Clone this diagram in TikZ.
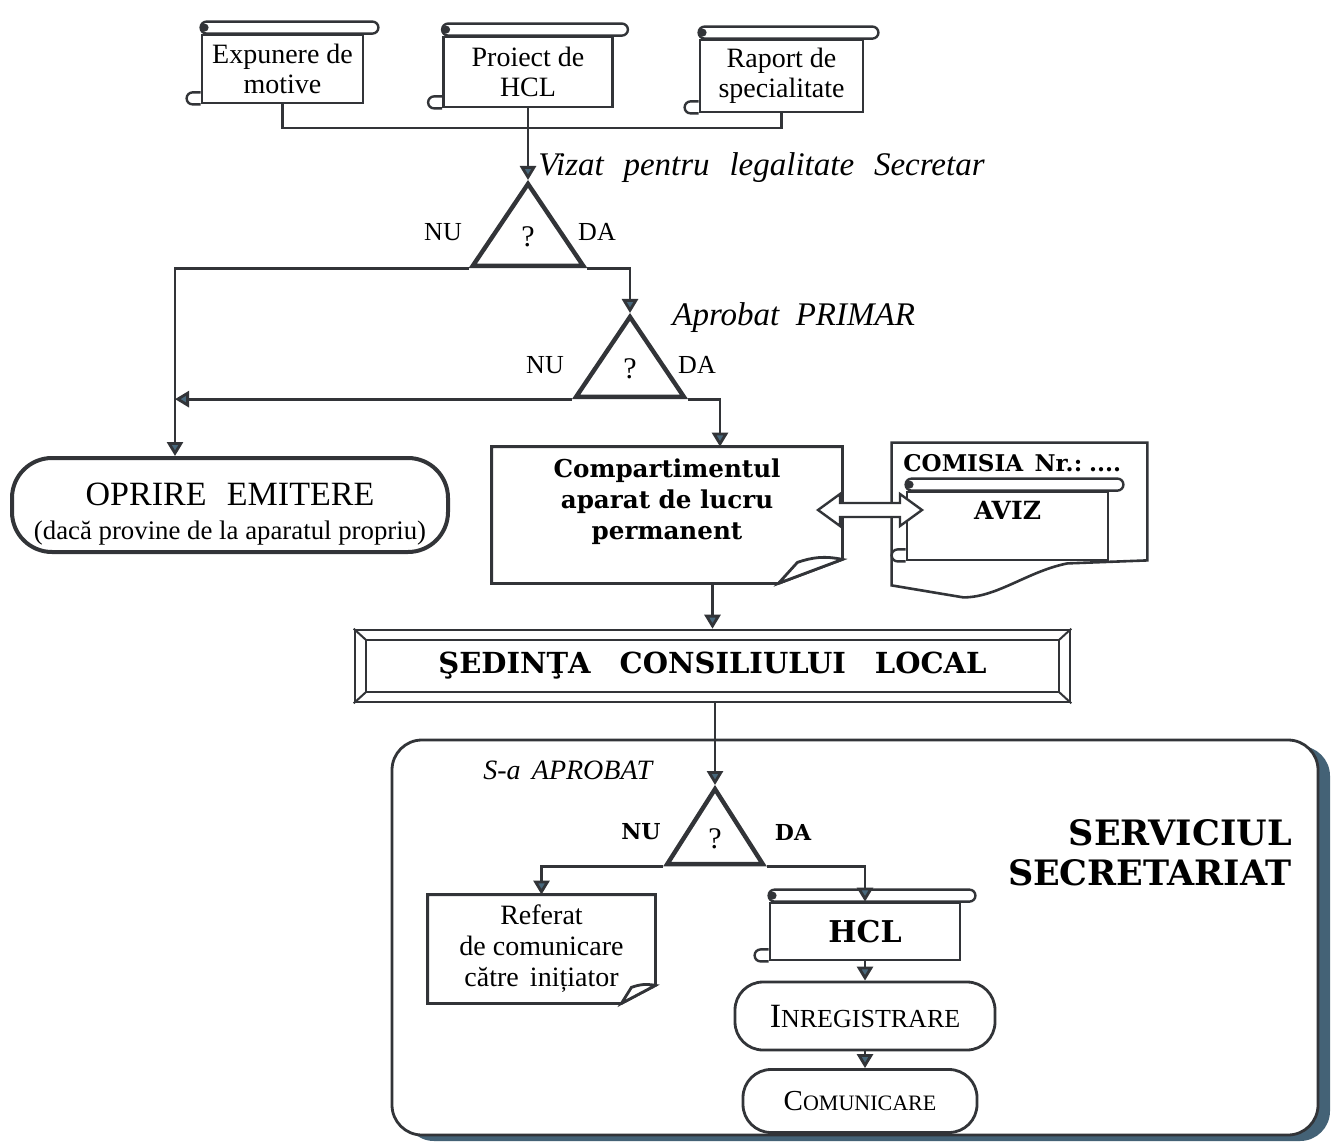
\documentclass[tikz,border=0pt]{standalone}
\usepackage{fontspec}
\setmainfont{Liberation Serif}
\newfontfamily\bkfont{DejaVu Serif}
\usetikzlibrary{arrows.meta,shapes.geometric,shadows,calc}

\definecolor{ink}{RGB}{50,52,56}
\definecolor{tipblue}{RGB}{72,104,124}
\definecolor{shadowblue}{RGB}{68,98,118}

\tikzset{
  conn/.style={draw=ink,line width=1.4pt},
  arr/.style={conn,-{Triangle[length=7pt,width=8pt,fill=tipblue]}},
  scroll/.style={draw=ink,line width=1.4pt,fill=white,align=center,inner sep=1pt,
    font=\fontsize{14}{15}\selectfont},
  rollline/.style={draw=ink,line width=1.2pt,fill=white},
  decision/.style={isosceles triangle,isosceles triangle apex angle=68,
    shape border rotate=90,draw=ink,line width=2.2pt,inner sep=0pt,anchor=apex,
    font=\fontsize{15}{15}\selectfont},
  answer/.style={inner sep=0pt,font=\fontsize{13}{15}\selectfont},
  answerbk/.style={inner sep=0pt,font=\bkfont\bfseries\fontsize{11}{13}\selectfont},
  cond/.style={anchor=west,inner sep=0pt,font=\itshape\fontsize{16.5}{18}\selectfont},
  terminal/.style={draw=ink,fill=white,align=center,inner sep=0pt},
  paper/.style={align=center,inner sep=0pt},
}

\begin{document}
\begin{tikzpicture}[x=0.5pt,y=-0.5pt]
\path[fill=white] (0,0) rectangle (1332,1144);
\useasboundingbox (0,0) rectangle (1332,1144);

% serviciul secretariat (background)
\node[draw=ink,line width=1.4pt,fill=white,rounded corners=15pt,
  minimum width=463pt,minimum height=197.5pt,
  drop shadow={shadow xshift=6pt,shadow yshift=-3pt,fill=shadowblue,opacity=1}]
  (sec) at (855,937.5) {};
\node[anchor=north east,inner sep=0pt,align=right,
  font=\bkfont\bfseries\fontsize{17.5}{20}\selectfont] (secname) at (1292,819)
  {SERVICIUL\\SECRETARIAT};

% documents
\node[scroll,minimum width=80.5pt,minimum height=34pt] (expm) at (282.5,69) {Expunere de\\motive};
\node[scroll,minimum width=84.5pt,minimum height=35pt] (proj) at (528,72) {Proiect de\\HCL};
\node[scroll,minimum width=81.5pt,minimum height=36pt] (rap) at (781.5,76) {Raport de\\specialitate};
\coordinate (bus) at (528,128);

% decisions
\node[decision,minimum height=41pt] (q1) at (528,180) {?};
\node[answer] (nu1) at (443,232) {NU};
\node[answer] (da1) at (597,232) {DA};
\node[cond] (vizat) at (538,168) {Vizat\hspace{.6em}pentru\hspace{.6em}legalitate\hspace{.6em}Secretar};

\node[decision,minimum height=40pt] (q2) at (630,313) {?};
\node[answer] (nu2) at (545,365) {NU};
\node[answer] (da2) at (697,365) {DA};
\node[cond] (aprob) at (672,318) {Aprobat\hspace{.5em}PRIMAR};
\coordinate (stop) at (175,0);
\coordinate (go) at (720,0);

\node[terminal,rounded corners=20pt,line width=2pt,minimum width=218pt,minimum height=47pt]
  (oprire) at (230,505)
  {\rule{0pt}{20pt}\fontsize{17}{18}\selectfont OPRIRE\hspace{.6em}EMITERE\\[5pt]
   \fontsize{13.4}{16}\selectfont(dacă provine de la aparatul propriu)};

\node[paper,minimum width=175pt,minimum height=68pt,
  font=\bkfont\bfseries\fontsize{12.3}{15.5}\selectfont] (comp) at (667,515)
  {Compartimentul\\aparat de lucru\\permanent\\\mbox{}};
\draw[conn] (comp.north west) -- (comp.north east) -- ([yshift=12pt]comp.south east)
  -- ([xshift=-32pt]comp.south east) -- (comp.south west) -- cycle;
\draw[conn,fill=white] ([xshift=-32pt]comp.south east) -- ([shift={(-22.5pt,10.5pt)}]comp.south east)
  to[bend left=15] ([yshift=12pt]comp.south east) -- cycle;

% comisia
\node[inner sep=0pt,minimum width=127.5pt,minimum height=71pt] (com) at (1019.5,514) {};
\draw[conn,line width=1.3pt,fill=white] (com.south west) -- (com.north west) -- (com.north east)
  -- ([yshift=12.5pt]com.south east) -- ($(com.south east)+(-40pt,11pt)$)
  .. controls ($(com.south east)+(-60pt,7pt)$) and ($(com.south east)+(-75pt,-6pt)$)
  .. ($(com.south east)+(-92pt,-6pt)$) -- cycle;
\node[anchor=west,inner sep=0pt,font=\bkfont\bfseries\fontsize{11.5}{13}\selectfont]
  (comlbl) at (903,463) {COMISIA\hspace{.5em}Nr.:\hspace{.3em}....};
\node[scroll,minimum width=100.5pt,minimum height=34pt,text depth=16pt,
  font=\bkfont\bfseries\fontsize{12.5}{14}\selectfont] (aviz) at (1007.5,526) {AVIZ};

% sedinta
\node[draw=ink,line width=1.3pt,fill=white,minimum width=357.5pt,minimum height=36pt,
  font=\bkfont\bfseries\fontsize{14.5}{16}\selectfont] (sed) at (712.5,666)
  {ŞEDINŢA\hspace{1em}CONSILIULUI\hspace{1em}LOCAL};
\draw[conn,line width=1pt] ([shift={(6pt,-5.5pt)}]sed.north west) rectangle ([shift={(-6pt,5.5pt)}]sed.south east);
\foreach \c/\dx/\dy in {north west/6pt/-5.5pt,north east/-6pt/-5.5pt,south west/6pt/5.5pt,south east/-6pt/5.5pt}
  \draw[conn,line width=1pt] (sed.\c) -- ([shift={(\dx,\dy)}]sed.\c);

% inside secretariat
\node[cond,font=\itshape\fontsize{14}{16}\selectfont] (saprob) at (483,770) {S-a\hspace{.4em}APROBAT};
\node[decision,isosceles triangle apex angle=65,minimum height=37.5pt] (q3) at (715,785) {?};
\node[answerbk] (nu3) at (641,832) {NU};
\node[answerbk] (da3) at (793,832) {DA};

\node[paper,minimum width=113.5pt,minimum height=54pt,font=\fontsize{14}{15.5}\selectfont]
  (ref) at (541.5,949) {Referat\\de comunicare\\către\hspace{.4em}inițiator};
\draw[conn] (ref.north west) -- (ref.north east) -- ([yshift=9pt]ref.south east)
  -- ([xshift=-17pt]ref.south east) -- (ref.south west) -- cycle;
\draw[conn,fill=white] ([xshift=-17pt]ref.south east) -- ([shift={(-12pt,8pt)}]ref.south east)
  to[bend left=15] ([yshift=9pt]ref.south east) -- cycle;

\node[scroll,minimum width=95pt,minimum height=28.5pt,
  font=\bkfont\bfseries\fontsize{15}{17}\selectfont] (hcl) at (865,931.5) {HCL};
\node[terminal,rounded corners=14pt,line width=1.4pt,minimum width=130pt,minimum height=34pt]
  (inreg) at (865,1016) {\fontsize{17}{17}\selectfont I\fontsize{13}{13}\selectfont NREGISTRARE};
\node[terminal,rounded corners=14pt,line width=1.4pt,minimum width=117pt,minimum height=31.5pt]
  (comun) at (860,1101) {\fontsize{14.5}{15}\selectfont C\fontsize{11}{13}\selectfont OMUNICARE};

% rolls of the scrolls
\foreach \s in {expm,proj,rap,aviz,hcl}{
  \draw[rollline,rounded corners=3pt] (\s.north west) rectangle ([shift={(7pt,6pt)}]\s.north east);
  \fill[ink] ([shift={(2pt,3pt)}]\s.north west) circle (2pt);
  \draw[rollline,fill=none] ([yshift=6pt]\s.south west) -- ++(-4pt,0pt) arc (90:270:3pt) -- (\s.south west);
}

% connectors
\draw[conn] (expm.south) |- (bus) -| (rap.south);
\draw[arr] (proj.south) -- (q1.apex);
\draw[arr] (q1.left corner) -- (stop |- q1.left corner) -- (stop |- oprire.north);
\draw[arr] (q1.right corner) -| (q2.apex);
\draw[arr] (q2.left corner) -- (stop |- q2.left corner);
\draw[arr] (q2.right corner) -| (go |- comp.north);
\draw[arr] (comp.south -| sed.north) -- (sed.north);
\draw[arr] (sed.south -| q3.apex) -- (q3.apex);
\draw[arr] (q3.left corner) -| (ref.north);
\draw[arr] (q3.right corner) -| (hcl.north);
\draw[arr] (hcl.south) -- (hcl.south |- inreg.north);
\draw[arr] (hcl.south |- inreg.south) -- (hcl.south |- comun.north);

% two-way arrow
\coordinate (dl) at (818,510);
\coordinate (dr) at (922,510);
\draw[conn,line width=1.2pt,fill=white] (dl) -- ++(11pt,8pt) -- ++(0pt,-4.5pt)
  -- ($(dr)+(-11pt,3.5pt)$) -- ++(0pt,4.5pt) -- (dr) -- ++(-11pt,-8pt) -- ++(0pt,4.5pt)
  -- ($(dl)+(11pt,-3.5pt)$) -- ++(0pt,-4.5pt) -- cycle;
\end{tikzpicture}
\end{document}
